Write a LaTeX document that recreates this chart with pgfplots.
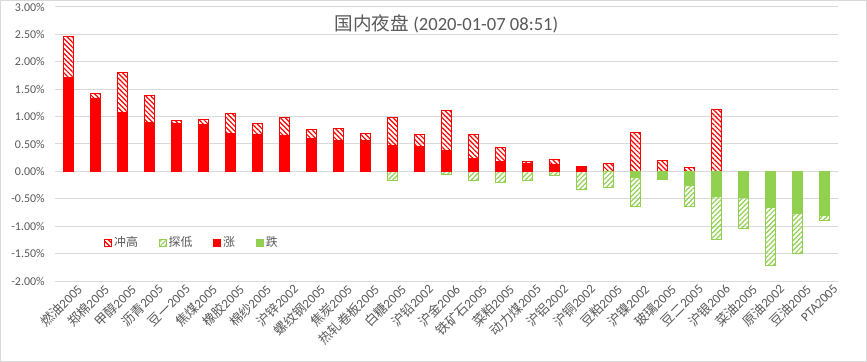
\documentclass[border=0pt]{standalone}
\usepackage{pgfplots}
\pgfplotsset{compat=1.18}
\usepackage{pgfplotstable}
\usetikzlibrary{patterns.meta}
\usepackage{fontspec}
\setmainfont{Carlito}
\newfontfamily\cjk{Noto Sans CJK SC}
\definecolor{upred}{HTML}{FF0000}
\definecolor{dngreen}{HTML}{92D050}
\definecolor{txt}{HTML}{595959}
\definecolor{gridc}{HTML}{D9D9D9}

\pgfplotstableread{
x up high down low
0 1.71 2.47 nan nan
1 1.33 1.43 nan nan
2 1.07 1.81 nan nan
3 0.89 1.38 nan nan
4 0.88 0.92 nan nan
5 0.85 0.94 nan nan
6 0.69 1.05 nan nan
7 0.68 0.87 nan nan
8 0.66 0.98 nan nan
9 0.60 0.76 nan nan
10 0.56 0.79 nan nan
11 0.56 0.70 nan nan
12 0.48 0.99 nan -0.17
13 0.46 0.68 nan nan
14 0.38 1.12 nan -0.05
15 0.24 0.68 nan -0.16
16 0.18 0.43 nan -0.21
17 0.15 0.18 nan -0.16
18 0.12 0.21 nan -0.07
19 0.09 0.09 nan -0.33
20 nan 0.15 nan -0.30
21 nan 0.71 -0.11 -0.64
22 nan 0.20 -0.14 -0.14
23 nan 0.07 -0.25 -0.64
24 nan 1.13 -0.45 -1.24
25 nan nan -0.47 -1.05
26 nan nan -0.65 -1.71
27 nan nan -0.76 -1.49
28 nan nan -0.80 -0.90
}\data

\begin{document}
\begin{tikzpicture}
\path[use as bounding box] (-41.25bp,-60.75bp) rectangle (609bp,210.75bp);
\draw[gridc, line width=0.75bp] (-40.9bp,-60.4bp) rectangle (608.6bp,210.4bp);
\begin{axis}[
  at={(0,0)}, anchor=south west,
  scale only axis,
  width=587.25bp, height=205.5bp,
  xmin=-0.5, xmax=28.5,
  ymin=-2, ymax=3,
  ybar, bar width=7.5bp, bar shift=0pt,
  unbounded coords=discard,
  axis line style={draw=none},
  major tick length=0pt,
  ymajorgrids, grid style={gridc, line width=0.75bp},
  ytick={-2,-1.5,-1,-0.5,0,0.5,1,1.5,2,2.5,3},
  yticklabels={-2.00\%,-1.50\%,-1.00\%,-0.50\%,0.00\%,0.50\%,1.00\%,1.50\%,2.00\%,2.50\%,3.00\%},
  yticklabel style={anchor=east, inner sep=0pt, xshift=-7.5bp, font=\fontsize{9}{10}\selectfont, text=txt},
  xtick={0,...,28},
  xticklabels={{\cjk 燃油}2005,{\cjk 郑棉}2005,{\cjk 甲醇}2005,{\cjk 沥青}2005,{\cjk 豆一}2005,{\cjk 焦煤}2005,{\cjk 橡胶}2005,{\cjk 棉纱}2005,{\cjk 沪锌}2002,{\cjk 螺纹钢}2005,{\cjk 焦炭}2005,{\cjk 热轧卷板}2005,{\cjk 白糖}2005,{\cjk 沪铅}2002,{\cjk 沪金}2006,{\cjk 铁矿石}2005,{\cjk 菜粕}2005,{\cjk 动力煤}2005,{\cjk 沪铝}2002,{\cjk 沪铜}2002,{\cjk 豆粕}2005,{\cjk 沪镍}2002,{\cjk 玻璃}2005,{\cjk 豆二}2005,{\cjk 沪银}2006,{\cjk 菜油}2005,{\cjk 原油}2002,{\cjk 豆油}2005,PTA2005},
  xticklabel style={rotate=45, anchor=east, inner sep=0pt, xshift=3bp, yshift=-9bp, font=\fontsize{9.8}{11}\selectfont, text=txt},
  title={{\cjk 国内夜盘} (2020-01-07 08:51)},
  title style={at={(0.5,1)}, anchor=center, yshift=-18.4bp, font=\fontsize{14}{16}\selectfont, text=txt},
  legend columns=4,
  legend style={at={(0.175,0.139)}, anchor=center, draw=none, fill=none,
    font=\fontsize{9}{10}\selectfont, text=txt,
    /tikz/every even column/.append style={column sep=14bp},
    nodes={inner sep=1.5bp}},
  legend image code/.code={\draw[#1, line width=0.75bp] (0bp,-2.6bp) rectangle (5.2bp,2.6bp);},
]
\addplot[draw=upred, line width=0.75bp, pattern={Lines[angle=-45,distance=2.6bp,line width=0.9bp]}, pattern color=upred] table[x=x,y=high]{\data};
\addlegendentry{\cjk 冲高}
\addplot[draw=dngreen, line width=0.75bp, pattern={Lines[angle=45,distance=2.6bp,line width=0.9bp]}, pattern color=dngreen] table[x=x,y=low]{\data};
\addlegendentry{\cjk 探低}
\addplot[draw=upred, fill=upred, line width=0.75bp] table[x=x,y=up]{\data};
\addlegendentry{\cjk 涨}
\addplot[draw=dngreen, fill=dngreen, line width=0.75bp] table[x=x,y=down]{\data};
\addlegendentry{\cjk 跌}
\end{axis}
\end{tikzpicture}
\end{document}
